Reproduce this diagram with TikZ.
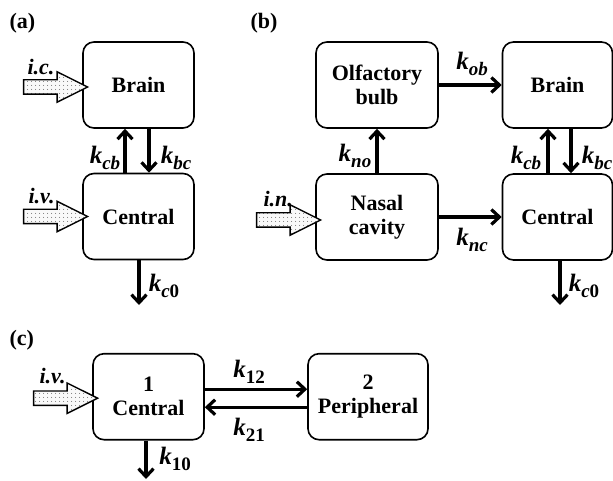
\documentclass[tikz,border=0pt]{standalone}
\usepackage{fontspec}
\setmainfont{Liberation Serif}
\usetikzlibrary{shapes.arrows,arrows.meta,patterns.meta}
\newcommand{\rate}[1]{{\fontsize{25}{26}\selectfont\bfseries\itshape k}\raisebox{-6pt}{\fontsize{19}{20}\selectfont\bfseries\itshape #1}}
\tikzset{
	box/.style={draw, line width=1.6pt, rounded corners=11pt, minimum height=86pt,
		align=center, inner sep=0pt, font=\fontsize{22}{24}\selectfont\bfseries},
	flow/.style={line width=3.2pt, -{Straight Barb[length=8pt,width=15pt]}},
	dose/.style={single arrow, draw, line width=1.4pt, inner sep=6.5pt, minimum height=64pt,
		single arrow head extend=8pt, single arrow tip angle=53, anchor=tip,
		preaction={fill=gray!5}, pattern={Dots[distance=4pt,radius=0.55pt]}, pattern color=black!80},
	rlabel/.style={inner sep=1pt},
	plabel/.style={font=\fontsize{22}{24}\selectfont\bfseries, anchor=west},
	route/.style={font=\fontsize{22}{24}\selectfont\bfseries\itshape, anchor=west}
}
\begin{document}
\begin{tikzpicture}[x=1pt,y=-1pt]
		\useasboundingbox (0,0) rectangle (613,481);
		\def\tip{7}
		% (a)
		\node[plabel] (pa) at (6,23) {(a)};
		\node[box, minimum width=111pt] (brA) at (138.5,85) {Brain};
		\node[box, minimum width=111pt] (cenA) at (138.5,216.5) {Central};
		\node[dose] (icA) at ([xshift=\tip pt,yshift=-2pt]brA.west) {};
		\node[route] (lic) at (24,67) {i.c.};
		\node[dose] (ivA) at ([xshift=\tip pt]cenA.west) {};
		\node[route] (livA) at (25,196) {i.v.};
		\draw[flow] ([xshift=-13.5pt]cenA.north) -- ([xshift=-13.5pt]brA.south);
		\draw[flow] ([xshift=10.5pt]brA.south) -- ([xshift=10.5pt]cenA.north);
		\coordinate (outA) at (139,305);
		\draw[flow] (cenA.south -| outA) -- (outA);
		\node[rlabel] (kcbA) at (105,158) {\rate{cb}};
		\node[rlabel] (kbcA) at (176,158) {\rate{bc}};
		\node[rlabel] (kcA) at (164,286) {\rate{c\textup{0}}};
		% (b)
		\node[plabel] (pb) at (247,23) {(b)};
		\node[box, minimum width=122pt] (olf) at (377,85) {Olfactory\\bulb};
		\node[box, minimum width=122pt] (nas) at (377,217) {Nasal\\cavity};
		\node[box, minimum width=110pt] (brB) at (557.5,85) {Brain};
		\node[box, minimum width=110pt] (cenB) at (557.5,217) {Central};
		\node[dose] (inB) at ([xshift=\tip pt,yshift=-3pt]nas.west) {};
		\node[route] (lin) at (260,199) {i.n.};
		\draw[flow] (nas) -- (olf);
		\draw[flow] (olf) -- (brB);
		\draw[flow] (nas) -- (cenB);
		\draw[flow] ([xshift=-9.5pt]cenB.north) -- ([xshift=-9.5pt]brB.south);
		\draw[flow] ([xshift=13.5pt]brB.south) -- ([xshift=13.5pt]cenB.north);
		\coordinate (outB) at (560,305);
		\draw[flow] (cenB.south -| outB) -- (outB);
		\node[rlabel] (kno) at (355,156) {\rate{no}};
		\node[rlabel] (kob) at (472,64) {\rate{ob}};
		\node[rlabel] (knc) at (472,240) {\rate{nc}};
		\node[rlabel] (kcbB) at (526,158) {\rate{cb}};
		\node[rlabel] (kbcB) at (597,158) {\rate{bc}};
		\node[rlabel] (kcB) at (584,286) {\rate{c\textup{0}}};
		% (c)
		\node[plabel] (pc) at (6,340) {(c)};
		\node[box, minimum width=111pt] (cenC) at (148.5,396.7) {1\\Central};
		\node[box, minimum width=120pt] (per) at (368,396.7) {2\\Peripheral};
		\node[dose] (ivC) at ([xshift=\tip pt,yshift=-1.5pt]cenC.west) {};
		\node[route] (livC) at (36,376) {i.v.};
		\draw[flow] ([yshift=7.5pt]cenC.east) -- ([yshift=7.5pt]per.west);
		\draw[flow] ([yshift=-10.5pt]per.west) -- ([yshift=-10.5pt]cenC.east);
		\coordinate (outC) at (146,479);
		\draw[flow] (cenC.south -| outC) -- (outC);
		\node[rlabel] (k12) at (249,372) {\rate{\textup{12}}};
		\node[rlabel] (k21) at (249,430) {\rate{\textup{21}}};
		\node[rlabel] (k10) at (175,459) {\rate{\textup{10}}};
\end{tikzpicture}
\end{document}
